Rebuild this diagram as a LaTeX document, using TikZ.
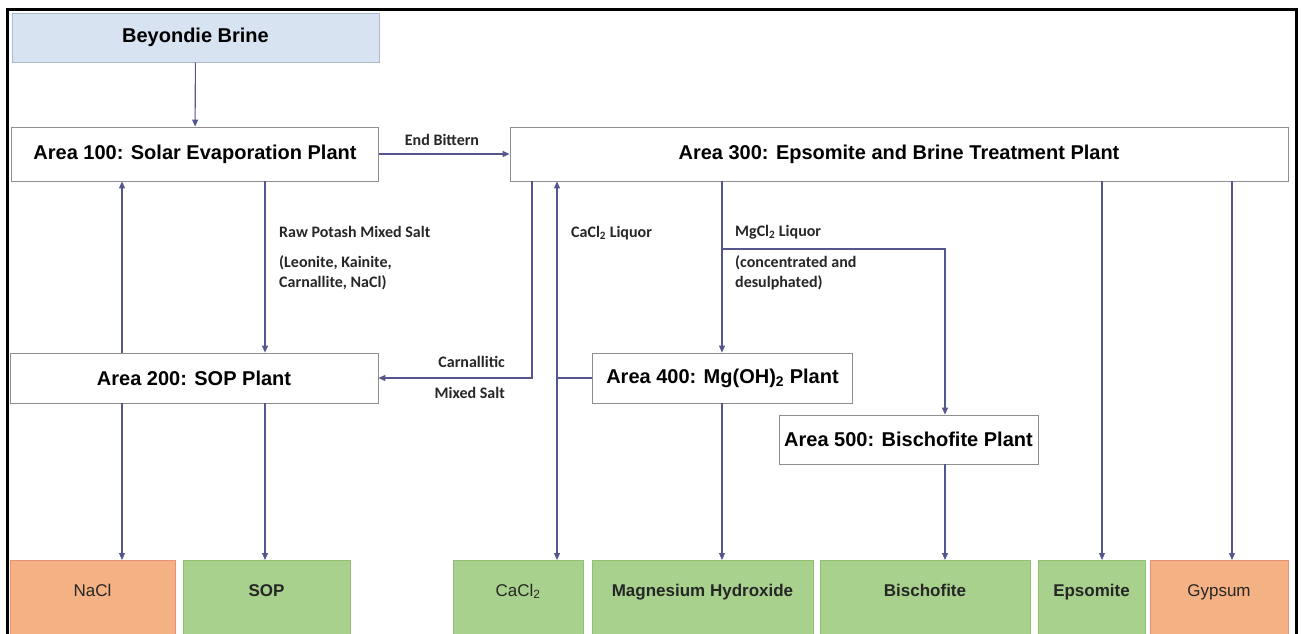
\documentclass[tikz,border=0pt]{standalone}
\usepackage{fontspec}
\setmainfont{Liberation Sans}
\newfontfamily\lblfont{Carlito}
\usepackage{xcolor}
\usepackage{tikz}
\usetikzlibrary{positioning,arrows.meta}

\definecolor{brineblue}{HTML}{D7E3F1}
\definecolor{brineedge}{HTML}{A9B9CE}
\definecolor{boxgrey}{HTML}{8E8E8E}
\definecolor{flow}{HTML}{56568F}
\definecolor{prodgreen}{HTML}{A9D18E}
\definecolor{greenedge}{HTML}{93C070}
\definecolor{prodsalmon}{HTML}{F4B183}
\definecolor{salmonedge}{HTML}{E8907A}

\begin{document}
\begin{tikzpicture}[x=1pt, y=-1pt,
    blk/.style={draw=boxgrey, fill=white, line width=0.8pt, inner sep=0pt,
                font=\fontsize{20}{24}\selectfont\bfseries},
    prod/.style={anchor=north, minimum height=90pt, inner sep=0pt, line width=0.8pt,
                 text height=12pt, text depth=30pt, text=black!85,
                 font=\fontsize{17}{20}\selectfont},
    good/.style={prod, draw=greenedge, fill=prodgreen, font=\fontsize{17}{20}\selectfont\bfseries},
    waste/.style={prod, draw=salmonedge, fill=prodsalmon},
    lbl/.style={inner sep=0pt, align=left, text=black!85,
                font=\lblfont\bfseries\fontsize{16}{20}\selectfont},
    arr/.style={-{Triangle[length=7pt,width=6pt]}, line width=1.1pt, draw=flow}
  ]
  \useasboundingbox (0,0) rectangle (1302,634);
  \clip (0,0) rectangle (1302,634);

  % Plant areas.
  \node[blk, draw=brineedge, fill=brineblue, minimum width=367pt, minimum height=49pt]
    (brine) at (195.5,37.5) {Beyondie Brine};
  \node[blk, minimum width=367pt, minimum height=54pt] (a100) at (195,154) {Area 100: Solar Evaporation Plant};
  \node[blk, minimum width=778pt, minimum height=54pt] (a300) at (899,154) {Area 300: Epsomite and Brine Treatment Plant};
  \node[blk, minimum width=368pt, minimum height=50pt] (a200) at (194,378) {Area 200: SOP Plant};
  \node[blk, minimum width=260pt, minimum height=50pt] (a400) at (722.5,378) {Area 400: Mg(OH)\textsubscript{2} Plant};
  \node[blk, minimum width=259pt, minimum height=49pt] (a500) at (908.5,439.5) {Area 500: Bischofite Plant};

  % Products (bottom row, cut by the frame).
  \node[waste, minimum width=165pt] (nacl)  at (92.5,560)  {NaCl};
  \node[good,  minimum width=167pt] (sop)   at (266.5,560) {SOP};
  \node[good,  minimum width=130pt, font=\fontsize{17}{20}\selectfont] (cacl) at (518,560) {CaCl\textsubscript{2}};
  \node[good,  minimum width=221pt] (mgoh)  at (702.5,560) {Magnesium Hydroxide};
  \node[good,  minimum width=210pt] (bisch) at (925,560)   {Bischofite};
  \node[good,  minimum width=107pt] (epsom) at (1091.5,560) {Epsomite};
  \node[waste, minimum width=138pt] (gyps)  at (1219,560)  {Gypsum};

  % Flow columns.
  \coordinate (nacol) at (122,0);
  \coordinate (sopcol) at (265,0);
  \coordinate (carcol) at (532,0);
  \coordinate (cacol) at (557,0);
  \coordinate (mgcol) at (722,0);
  \coordinate (bicol) at (945,0);
  \coordinate (epcol) at (1102,0);
  \coordinate (gycol) at (1232,0);
  \coordinate (mgsplit) at (722,249);

  \draw[arr] (brine) -- (a100);
  \draw[arr] (a100) -- (a300);
  \draw[arr] (a200.north -| nacol) -- (a100.south -| nacol);
  \draw[arr] (a100.south -| sopcol) -- (a200.north -| sopcol);
  \draw[arr] (a200.south -| nacol) -- (nacl.north -| nacol);
  \draw[arr] (a200.south -| sopcol) -- (sop.north -| sopcol);
  \draw[arr] (a300.south -| carcol) |- (a200.east);
  \draw[arr] (a400.west) -| (a300.south -| cacol);
  \draw[arr] (a400.west -| cacol) -- (cacl.north -| cacol);
  \draw[arr] (a300.south -| mgcol) -- (a400.north -| mgcol);
  \draw[arr] (mgsplit) -| (a500.north -| bicol);
  \draw[arr] (a400.south -| mgcol) -- (mgoh.north -| mgcol);
  \draw[arr] (a500.south -| bicol) -- (bisch.north -| bicol);
  \draw[arr] (a300.south -| epcol) -- (epsom.north -| epcol);
  \draw[arr] (a300.south -| gycol) -- (gyps.north -| gycol);

  % Stream labels.
  \node[lbl, anchor=south] (bittern) at (442,146) {End Bittern};
  \node[lbl, anchor=west] (rawsalt) at (279,232) {Raw Potash Mixed Salt};
  \node[lbl, anchor=north west] (rawmix) at (279,255) {(Leonite, Kainite,\\Carnallite, NaCl)};
  \node[lbl, anchor=east] (carn) at (505,362) {Carnallitic};
  \node[lbl, anchor=east] (carnmix) at (505,393) {Mixed Salt};
  \node[lbl, anchor=west] (caliq) at (571,233) {CaCl\textsubscript{2} Liquor};
  \node[lbl, anchor=west] (mgliq) at (735,232) {MgCl\textsubscript{2} Liquor};
  \node[lbl, anchor=north west] (mgnote) at (735,255) {(concentrated and\\desulphated)};

  % Frame.
  \draw[line width=3pt] (7,640) -- (7,10) -- (1296,10) -- (1296,640);
\end{tikzpicture}
\end{document}
